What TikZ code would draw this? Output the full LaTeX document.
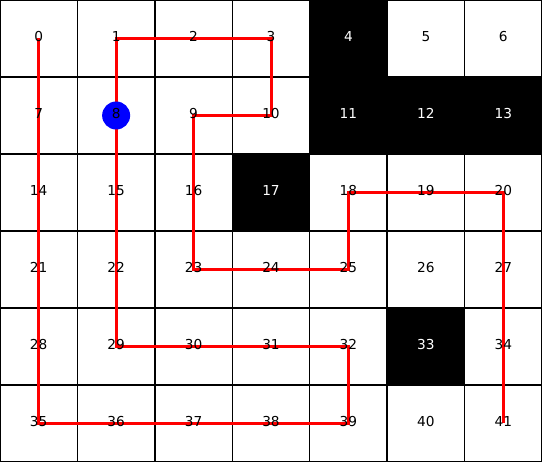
\documentclass[tikz,border=0pt]{standalone}
\usepackage{fontspec}
\setmainfont{DejaVu Sans}
\usepackage{xcolor}

\begin{document}
\begin{tikzpicture}[x=77.43pt,y=77pt,
        cell/.style={rectangle,draw=black,line width=1.3pt,minimum width=77.43pt,minimum height=77pt,inner sep=0pt},
        lbl/.style={inner sep=0pt,text height=10pt,text depth=0pt,yshift=1.5pt,font=\fontsize{13.7}{16}\selectfont},
        route/.style={red,line width=3pt},
        agent/.style={circle,fill=blue,minimum size=28pt,inner sep=0pt}]
    \useasboundingbox (0,0) rectangle (7,-6);
    % 1 = wall
    \def\walls{{0,0,0,0,1,0,0, 0,0,0,0,1,1,1, 0,0,0,1,0,0,0, 0,0,0,0,0,0,0, 0,0,0,0,0,1,0, 0,0,0,0,0,0,0}}
    \foreach \i in {0,...,41} {
        \pgfmathtruncatemacro\c{mod(\i,7)}
        \pgfmathtruncatemacro\r{div(\i,7)}
        \pgfmathtruncatemacro\w{\walls[\i]}
        \ifnum\w=1
            \node[cell,fill=black] (c\i) at (\c+0.5,-\r-0.5) {};
        \else
            \node[cell,fill=white] (c\i) at (\c+0.5,-\r-0.5) {};
        \fi
    }
    \draw[route] (c41.center) -- (c20.center) -- (c18.center) -- (c25.center) -- (c23.center)
        -- (c9.center) -- (c10.center) -- (c3.center) -- (c1.center) -- (c29.center)
        -- (c32.center) -- (c39.center) -- (c35.center) -- (c0.center);
    \node[agent] (start) at (c8.center) {};
    \foreach \i in {0,...,41} {
        \pgfmathtruncatemacro\w{\walls[\i]}
        \ifnum\w=1
            \node[lbl,text=white] (l\i) at (c\i.center) {\i};
        \else
            \node[lbl,text=black] (l\i) at (c\i.center) {\i};
        \fi
    }
\end{tikzpicture}
\end{document}
